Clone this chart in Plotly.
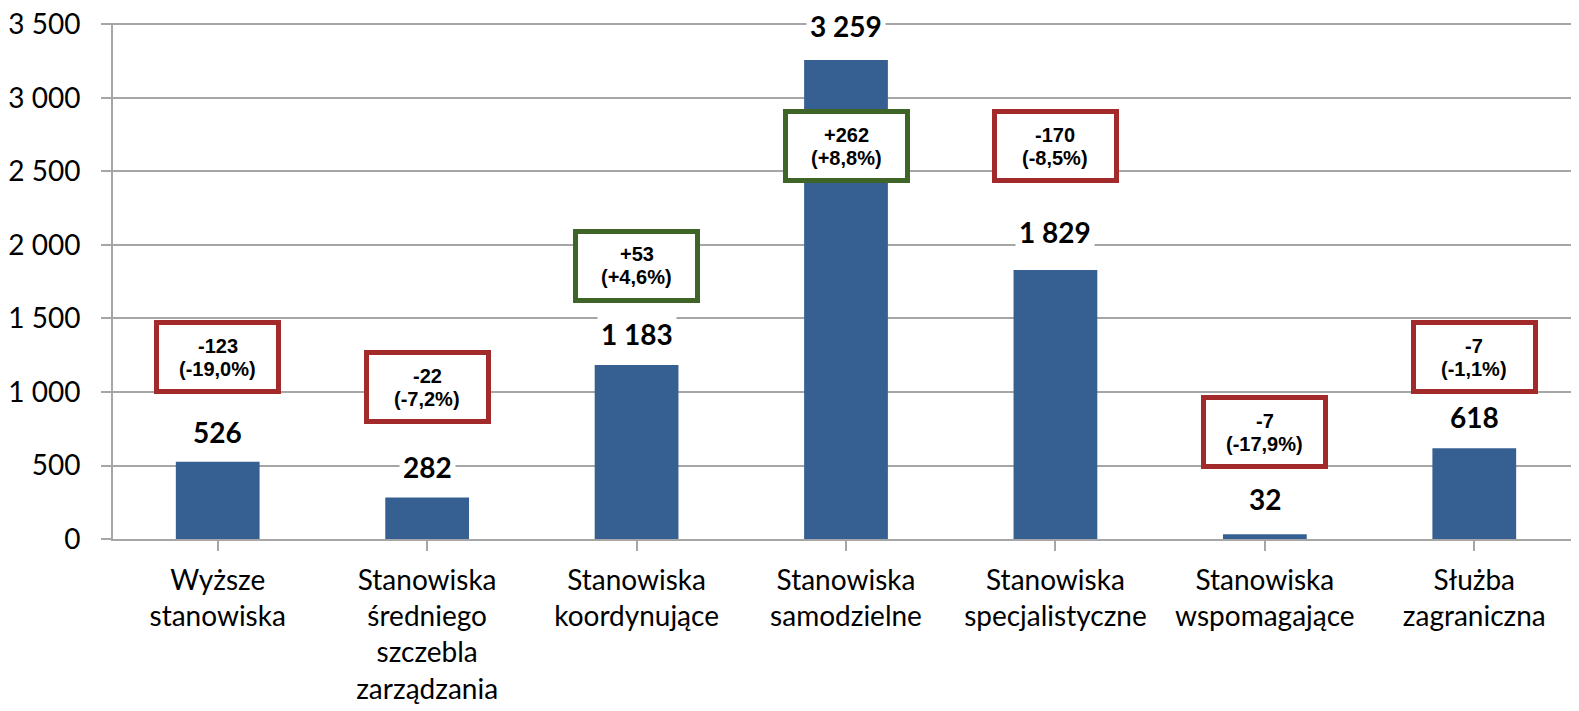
import plotly.graph_objects as go

categories = ["Wyższe<br>stanowiska",
              "Stanowiska<br>średniego<br>szczebla<br>zarządzania",
              "Stanowiska<br>koordynujące",
              "Stanowiska<br>samodzielne",
              "Stanowiska<br>specjalistyczne",
              "Stanowiska<br>wspomagające",
              "Służba<br>zagraniczna"]
values = [526, 282, 1183, 3259, 1829, 32, 618]
value_labels = ["526", "282", "1 183", "3 259", "1 829", "32", "618"]
change_abs = ["-123", "-22", "+53", "+262", "-170", "-7", "-7"]
change_pct = ["(-19,0%)", "(-7,2%)", "(+4,6%)", "(+8,8%)", "(-8,5%)", "(-17,9%)", "(-1,1%)"]
y_ticks = [0, 500, 1000, 1500, 2000, 2500, 3000, 3500]
# layout: vertical placement (axis units) of the change boxes, pixel lift of value labels
box_y = [1237, 1032, 1859, 2673, 2673, 725, 1237]
label_lift = [30, 31, 31, 34, 38, 35, 31]

BAR = "#376092"
RED = "#A32A2A"
GREEN = "#3E6428"
GRID = "#A6A6A6"
FONT = "Lato"
BOXFONT = "Liberation Sans"

fig = go.Figure()
fig.add_trace(go.Bar(x=list(range(len(categories))), y=values, marker_color=BAR,
                     marker_line_width=0, width=0.4, hoverinfo="skip"))

annotations = []
for i, (v, lab, lift) in enumerate(zip(values, value_labels, label_lift)):
    annotations.append(dict(x=i, y=v, xref="x", yref="y", text="<b>%s</b>" % lab,
                            showarrow=False, yanchor="middle", yshift=lift,
                            font=dict(family=FONT, size=28, color="black"),
                            bgcolor="white", borderpad=3))
for i, (a, p, by) in enumerate(zip(change_abs, change_pct, box_y)):
    col = GREEN if a.startswith("+") else RED
    # frame
    annotations.append(dict(x=i, y=by, xref="x", yref="y", text="",
                            showarrow=False, yanchor="middle",
                            bgcolor="white", bordercolor=col, borderwidth=5,
                            width=113, height=60, borderpad=2))
    # two text lines
    annotations.append(dict(x=i, y=by, xref="x", yref="y", text="<b>%s</b>" % a,
                            showarrow=False, yanchor="middle", yshift=11.5,
                            font=dict(family=BOXFONT, size=20, color="black")))
    annotations.append(dict(x=i, y=by, xref="x", yref="y", text="<b>%s</b>" % p,
                            showarrow=False, yanchor="middle", yshift=-11.5,
                            font=dict(family=BOXFONT, size=20, color="black")))

fig.update_layout(
    width=1571, height=703,
    margin=dict(l=105, r=0, t=15, b=172),
    plot_bgcolor="white", paper_bgcolor="white",
    separators=", ",
    showlegend=False,
    annotations=annotations,
    xaxis=dict(range=[-0.5, 6.5], tickmode="array", tickvals=list(range(7)), ticktext=categories,
               tickson="boundaries", ticks="outside", ticklen=10, tickcolor=GRID, tickwidth=2,
               showline=True, linecolor=GRID, linewidth=2, showgrid=False, automargin=False,
               tickfont=dict(family=FONT, size=28, color="black"), ticklabelstandoff=5,
               ticklabeloverflow="allow"),
    yaxis=dict(range=[0, 3510], tickmode="array", tickvals=y_ticks,
               tickformat=",d", ticks="outside", ticklen=10,
               tickcolor=GRID, tickwidth=2, showline=True, linecolor=GRID, linewidth=2,
               showgrid=True, gridcolor=GRID, gridwidth=2, zeroline=False, automargin=False,
               tickfont=dict(family=FONT, size=28, color="black"), ticklabelstandoff=15,
               ticklabeloverflow="allow"),
)

fig.write_html("out.html")
